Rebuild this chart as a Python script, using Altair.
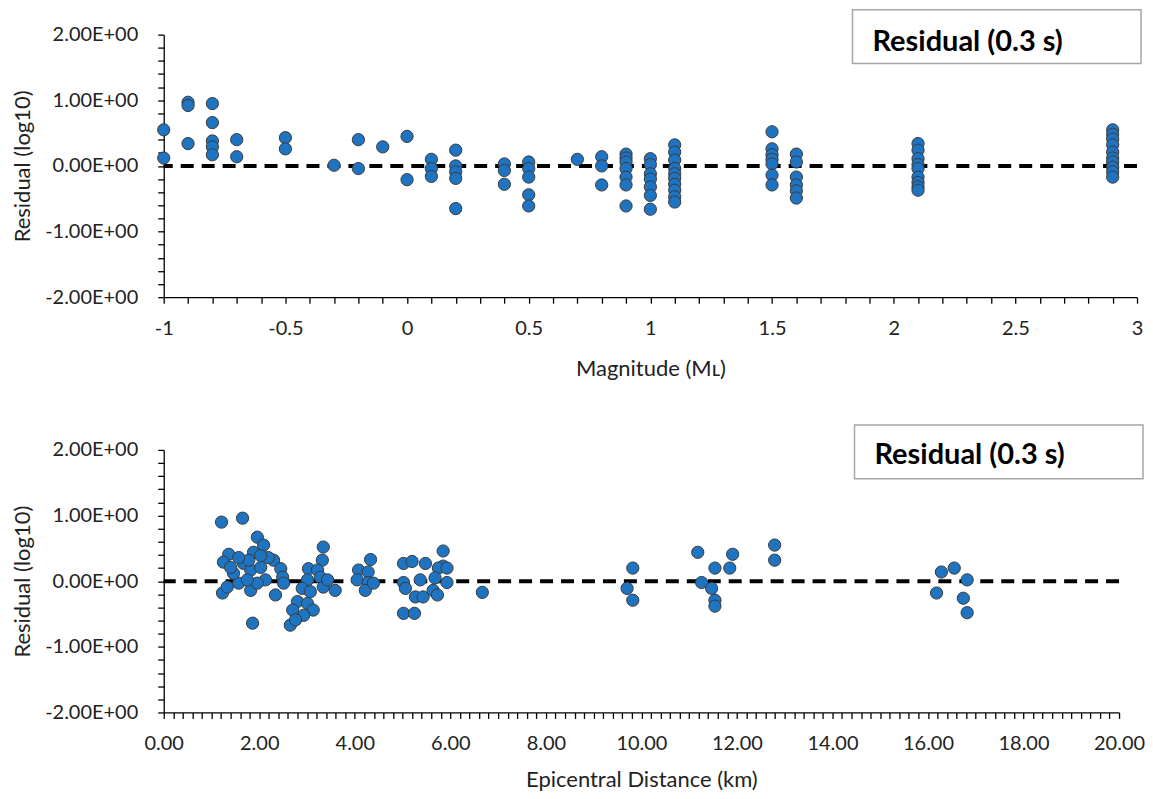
import altair as alt
import pandas as pd

# ---------------- data ----------------
MAG = ([-1.0] * 2 + [-0.9] * 3 + [-0.8] * 5 + [-0.7] * 2 + [-0.5] * 2 + [-0.3] + [-0.2] * 2 + [-0.1]
       + [0.0] * 2 + [0.1] * 3 + [0.2] * 5 + [0.4] * 3 + [0.5] * 5 + [0.7] + [0.8] * 3 + [0.9] * 7
       + [1.0] * 7 + [1.1] * 10 + [1.5] * 7 + [1.6] * 6 + [2.1] * 9 + [2.9] * 10)
RES_MAG = [0.55, 0.12,
           0.97, 0.92, 0.34,
           0.95, 0.66, 0.38, 0.29, 0.17,
           0.40, 0.14,
           0.43, 0.26,
           0.01,
           0.40, -0.04,
           0.29,
           0.45, -0.21,
           0.10, -0.04, -0.16,
           0.24, 0.00, -0.09, -0.19, -0.65,
           0.03, -0.07, -0.28,
           0.06, -0.04, -0.17, -0.44, -0.61,
           0.10,
           0.14, 0.00, -0.29,
           0.18, 0.12, 0.06, -0.04, -0.17, -0.29, -0.61,
           0.11, 0.02, -0.12, -0.20, -0.32, -0.45, -0.66,
           0.32, 0.21, 0.09, -0.04, -0.12, -0.19, -0.28, -0.37, -0.47, -0.55,
           0.52, 0.26, 0.17, 0.10, 0.03, -0.14, -0.29,
           0.18, 0.06, -0.17, -0.29, -0.38, -0.49,
           0.34, 0.24, 0.11, 0.02, -0.04, -0.17, -0.25, -0.32, -0.37,
           0.55, 0.48, 0.41, 0.32, 0.21, 0.12, 0.06, -0.02, -0.09, -0.17]

DIST = [1.21, 1.65, 1.96, 2.09, 1.36, 1.25, 1.23, 1.86, 1.33, 1.57, 1.82, 1.88, 1.67, 1.46, 1.82,
        2.03, 2.13, 2.30, 2.45, 2.49, 2.51, 2.34, 1.96, 1.75, 1.40, 2.19, 2.03, 1.78, 1.57,
        3.34, 3.32, 3.03, 3.22, 3.28, 3.01, 2.90, 3.07, 3.34, 3.59, 2.80, 3.01, 3.13, 2.70, 2.93,
        2.65, 2.76, 3.43,
        4.33, 4.08, 4.28, 4.05, 4.28, 4.22, 4.39,
        5.85, 5.85, 5.02, 5.20, 5.48, 5.75, 5.93, 5.02, 5.37, 5.68, 5.93, 5.06, 5.27, 5.43, 5.64,
        5.73, 5.02, 5.25,
        6.67,
        9.82, 9.70, 9.82,
        11.18, 11.26, 11.54, 11.47, 11.54, 11.54, 11.91, 11.85,
        12.79, 12.79,
        16.18, 16.28, 16.55, 16.82, 16.74, 16.82]
RES_DIST = [0.90, 0.96, 0.67, 0.55, 0.41, 0.29, -0.18, -0.64, -0.09, -0.03, -0.14, 0.44, 0.27, 0.12, 0.17,
            0.21, 0.02, 0.32, 0.19, 0.06, -0.03, -0.21, -0.03, 0.02, 0.21, 0.36, 0.39, 0.32, 0.36,
            0.52, 0.32, 0.19, 0.17, 0.06, 0.02, -0.11, -0.16, -0.09, -0.14, -0.31, -0.34, -0.44, -0.44, -0.52,
            -0.67, -0.59, 0.02,
            0.33, 0.17, 0.14, 0.02, -0.02, -0.14, -0.03,
            0.46, 0.23, 0.27, 0.30, 0.27, 0.20, 0.20, -0.02, 0.02, 0.05, -0.02, -0.11, -0.24, -0.24, -0.14,
            -0.21, -0.49, -0.49,
            -0.17,
            0.20, -0.11, -0.29,
            0.44, -0.02, 0.20, -0.11, -0.29, -0.38, 0.41, 0.20,
            0.55, 0.32,
            -0.18, 0.14, 0.20, 0.02, -0.26, -0.48]

LABEL = "Residual (0.3 s)"
Y_TITLE = "Residual (log10)"
X_TITLE_TOP = "Magnitude (M\u029f)"
X_TITLE_BOTTOM = "Epicentral Distance (km)"

Y_TICKS = [round(-2 + i * 0.2, 1) + 0.0 for i in range(21)]
X_TICKS_TOP = [round(-1 + i * 0.1, 1) + 0.0 for i in range(41)]
X_TICKS_BOTTOM = [round(i * 0.2, 1) + 0.0 for i in range(101)]

# ---------------- style ----------------
FONT = "Lato"
BLUE = "#1f74c2"

top_df = pd.DataFrame({"x": MAG, "y": RES_MAG})
bot_df = pd.DataFrame({"x": DIST, "y": RES_DIST})
zero_df = pd.DataFrame({"y": [0]})
label_df = pd.DataFrame({"label": [LABEL]})

Y_LABEL_EXPR = ("abs(datum.value - round(datum.value)) < 0.001 ? "
                "(datum.value < 0 ? '-' : '') + format(abs(datum.value), '.2f') + 'E+00' : ''")


def panel(df, domain, ticks, label_expr, title, width, box_x, text_dy, title_pad):
    yaxis = alt.Axis(values=Y_TICKS, tickCount=len(Y_TICKS), labelExpr=Y_LABEL_EXPR,
                     title=Y_TITLE, titlePadding=10, labelPadding=20)
    yenc = alt.Y("y:Q", scale=alt.Scale(domain=[-2, 2], nice=False, zero=False), axis=yaxis)
    xenc = alt.X("x:Q", scale=alt.Scale(domain=domain, nice=False, zero=False),
                 axis=alt.Axis(values=ticks, tickCount=len(ticks), labelExpr=label_expr,
                               title=title, titlePadding=title_pad, labelPadding=15))
    zero = alt.Chart(zero_df).mark_rule(color="black", strokeWidth=4, strokeDash=[13, 8]).encode(
        y=yenc)
    pts = alt.Chart(df).mark_circle(size=150, opacity=1, color=BLUE, stroke="#3a3a3a",
                                    strokeWidth=1).encode(x=xenc, y=yenc)
    box = alt.Chart(label_df).mark_rect(fill="white", stroke="#a6a6a6", strokeWidth=1.5).encode(
        x=alt.value(box_x), x2=alt.value(box_x + 289), y=alt.value(-25), y2=alt.value(29))
    txt = alt.Chart(label_df).mark_text(align="left", baseline="middle", font=FONT, fontSize=29,
                                        fontWeight="bold", color="black").encode(
        x=alt.value(box_x + 20), y=alt.value(text_dy), text="label:N")
    return alt.layer(zero, pts, box, txt).properties(width=width, height=263)


top = panel(top_df, [-1, 3], X_TICKS_TOP,
            "abs(datum.value*2 - round(datum.value*2)) < 0.001 ? '' + datum.value : ''",
            X_TITLE_TOP, 975, 690, 7, 20)
bottom = panel(bot_df, [0, 20], X_TICKS_BOTTOM,
               "abs(datum.value/2 - round(datum.value/2)) < 0.001 ? format(datum.value, '.2f') : ''",
               X_TITLE_BOTTOM, 957, 692, 5, 16)

chart = alt.vconcat(top, bottom, spacing=45).properties(
    padding={"left": 3, "top": 0, "right": 0, "bottom": 0}
).configure_axis(
    grid=False, domainColor="black", domainWidth=1.3, tickColor="black", tickWidth=1.3,
    tickSize=6, labelFont=FONT, labelFontSize=20, labelColor="#222222",
    titleFont=FONT, titleFontSize=22, titleFontWeight="normal", titleColor="#222222",
    labelOverlap=False, labelFlush=False
).configure_view(strokeWidth=0)

chart.save("out.html", embed_options={"renderer": "svg", "actions": False})
